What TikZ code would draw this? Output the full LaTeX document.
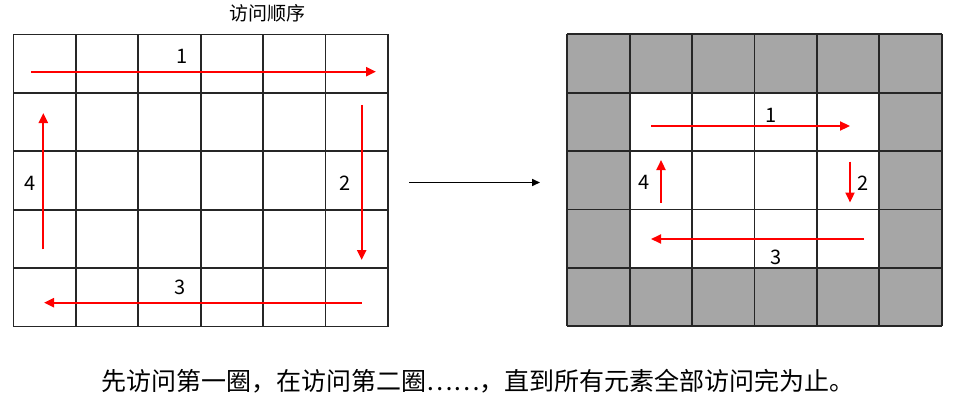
\documentclass[tikz,border=0pt]{standalone}
\usepackage{fontspec}
\setmainfont{Noto Sans CJK SC}
\usetikzlibrary{arrows.meta}
\definecolor{cellgray}{HTML}{A6A6A6}
\definecolor{arrred}{HTML}{FF0000}
\tikzset{
  gridline/.style={draw=black!85, line width=1.7pt},
  redarrow/.style={draw=arrred, line width=2.2pt, -{Triangle[length=10pt,width=9pt]}},
  blackarrow/.style={draw=black, line width=1.6pt, -{Triangle[length=8pt,width=7pt]}},
  numlabel/.style={font=\fontsize{20}{22}\selectfont, inner sep=0pt},
  titlelabel/.style={font=\fontsize{19}{21}\selectfont, inner sep=0pt},
  captionlabel/.style={font=\fontsize{25}{28}\selectfont, inner sep=0pt}
}
\begin{document}
\begin{tikzpicture}[x=1pt,y=-1pt]
\useasboundingbox[fill=white] (0,0) rectangle (957,409);
% ---------- left grid ----------
\def\lx{13.5}\def\ly{34.5}\def\cw{62.4}\def\rh{58.4}
\foreach \i in {0,...,6} \draw[gridline] (\lx+\i*\cw,\ly) -- (\lx+\i*\cw,\ly+5*\rh);
\foreach \j in {0,...,5} \draw[gridline] (\lx,\ly+\j*\rh) -- (\lx+6*\cw,\ly+\j*\rh);
% ---------- right grid ----------
\def\rx{567.3}\def\ry{34.3}
\foreach \i in {0,...,5} \foreach \j in {0,...,4} {
  \pgfmathsetmacro{\isedge}{(\i==0||\i==5||\j==0||\j==4)?1:0}
  \ifdim\isedge pt>0.5pt
    \fill[cellgray] (\rx+\i*\cw,\ry+\j*\rh) rectangle ++(\cw,\rh);
  \fi
}
\foreach \i in {0,...,6} \draw[gridline] (\rx+\i*\cw,\ry) -- (\rx+\i*\cw,\ry+5*\rh);
\foreach \j in {0,...,5} \draw[gridline] (\rx,\ry+\j*\rh) -- (\rx+6*\cw,\ry+\j*\rh);
% ---------- title ----------
\node[titlelabel] (title) at (267,13) {访问顺序};
% ---------- left arrows ----------
\coordinate (l1s) at (31,71.7);   \coordinate (l1e) at (376,71.7);
\coordinate (l2s) at (361.7,105); \coordinate (l2e) at (361.7,260);
\coordinate (l3s) at (361.7,302.7); \coordinate (l3e) at (44,302.7);
\coordinate (l4s) at (43.3,249.3); \coordinate (l4e) at (43.3,113);
\draw[redarrow] (l1s) -- (l1e);
\draw[redarrow] (l2s) -- (l2e);
\draw[redarrow] (l3s) -- (l3e);
\draw[redarrow] (l4s) -- (l4e);
\node[numlabel] (ln1) at (182.5,56) {1};
\node[numlabel] (ln2) at (345,183) {2};
\node[numlabel] (ln3) at (180.5,287) {3};
\node[numlabel] (ln4) at (30.5,183) {4};
% ---------- right arrows ----------
\coordinate (r1s) at (651,126);   \coordinate (r1e) at (850,126);
\coordinate (r2s) at (850,161.5); \coordinate (r2e) at (850,202.5);
\coordinate (r3s) at (864,239);   \coordinate (r3e) at (651,239);
\coordinate (r4s) at (661,202.7); \coordinate (r4e) at (661,160);
\draw[redarrow] (r1s) -- (r1e);
\draw[redarrow] (r2s) -- (r2e);
\draw[redarrow] (r3s) -- (r3e);
\draw[redarrow] (r4s) -- (r4e);
\node[numlabel] (rn1) at (771.5,115) {1};
\node[numlabel] (rn2) at (863.5,183.5) {2};
\node[numlabel] (rn3) at (776.5,257.5) {3};
\node[numlabel] (rn4) at (644.5,182) {4};
% ---------- middle arrow ----------
\coordinate (ms) at (409,182.5);
\coordinate (me) at (540,182.5);
\draw[blackarrow] (ms) -- (me);
% ---------- caption ----------
\node[captionlabel] (caption) at (478,381) {先访问第一圈，在访问第二圈……，直到所有元素全部访问完为止。};
\end{tikzpicture}
\end{document}
